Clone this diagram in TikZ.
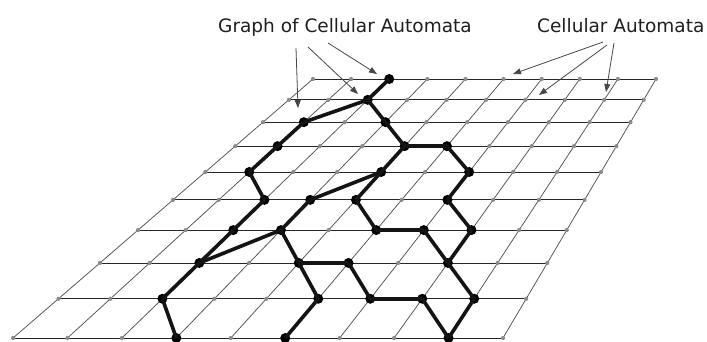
\documentclass[tikz,border=0pt]{standalone}
\usepackage{fontspec}
\setmainfont{DejaVu Sans}
\usetikzlibrary{arrows.meta}
\tikzset{
  hline/.style={draw=black!85, line width=0.8pt},
  vline/.style={draw=black!68, line width=0.75pt},
  griddot/.style={fill=black!45},
  bnode/.style={circle, fill=black, draw=none, inner sep=0pt, minimum size=10pt},
  edge/.style={draw=black!92, line width=3.6pt},
  lbl/.style={font=\fontsize{18.5}{22}\selectfont, text=black!88, inner sep=0pt},
  pointer/.style={draw=black!72, line width=0.8pt, -{Triangle[length=8pt,width=6pt]}}
}
\begin{document}
\begin{tikzpicture}[x=1pt,y=-1pt]
\useasboundingbox[fill=white] (0,0) rectangle (707,341);
% perspective grid points
\foreach \i/\yy/\LL/\ww in {0/79/313/343, 1/99.84/288.86/354.83, 2/122.17/263/367.5,
  3/146.15/235.22/381.11, 4/171.98/205.3/395.77, 5/199.87/173/411.6,
  6/230.08/138/428.75, 7/262.93/99.95/447.39, 8/298.76/58.45/467.73, 9/338/13/490}{
  \foreach \j in {0,...,9}{
    \coordinate (g-\i-\j) at ({\LL+\j*\ww/9},\yy);
  }
}
% grid lines
\foreach \j in {0,...,9}{ \draw[vline] (g-0-\j) -- (g-9-\j); }
\foreach \i in {0,...,9}{ \draw[hline] (g-\i-0) -- (g-\i-9); }
% grid dots
\foreach \i in {0,...,9}{ \foreach \j in {0,...,9}{ \fill[griddot] (g-\i-\j) circle (2.1pt); } }
% graph nodes
\foreach \i/\j in {0/2,1/2,2/1,2/3,3/1,3/4,3/5,4/1,4/4,4/6,5/2,5/3,5/4,5/6,
  6/2,6/3,6/5,6/6,6/7,7/2,7/4,7/5,7/7,8/2,8/5,8/6,8/7,8/8,9/3,9/5,9/8}{
  \node[bnode] (n-\i-\j) at (g-\i-\j) {};
}
% graph edges
\foreach \a/\b in {0-2/1-2, 1-2/2-1, 1-2/2-3, 2-1/3-1, 2-3/3-4, 3-1/4-1, 3-4/3-5,
  3-4/4-4, 3-5/4-6, 4-1/5-2, 4-4/5-3, 4-4/5-4, 4-6/5-6, 5-2/6-2, 5-3/6-3,
  5-4/6-5, 5-6/6-7, 6-2/7-2, 6-3/7-2, 6-3/7-4, 6-5/6-6, 6-6/7-7, 6-7/7-7,
  7-2/8-2, 7-4/7-5, 7-4/8-5, 7-5/8-6, 7-7/8-8, 8-2/9-3, 8-5/9-5, 8-6/8-7,
  8-7/9-8, 8-8/9-8}{
  \draw[edge] (n-\a.center) -- (n-\b.center);
}
% labels
\node[lbl, anchor=base west] (lg) at (218,32.5) {Graph of Cellular Automata};
\node[lbl, anchor=base west] (lc) at (537,32.5) {Cellular Automata};
% pointer coordinates
\coordinate (s1) at (296,48); \coordinate (e1) at (298,108);
\coordinate (s2) at (308,47); \coordinate (e2) at (358,94);
\coordinate (s3) at (328,43); \coordinate (e3) at (377,74);
\coordinate (s4) at (603,42); \coordinate (e4) at (513,74);
\coordinate (s5) at (607,45); \coordinate (e5) at (539,95);
\coordinate (s6) at (614,43); \coordinate (e6) at (606,92);
\foreach \k in {1,...,6}{ \draw[pointer] (s\k) -- (e\k); }
\end{tikzpicture}
\end{document}
